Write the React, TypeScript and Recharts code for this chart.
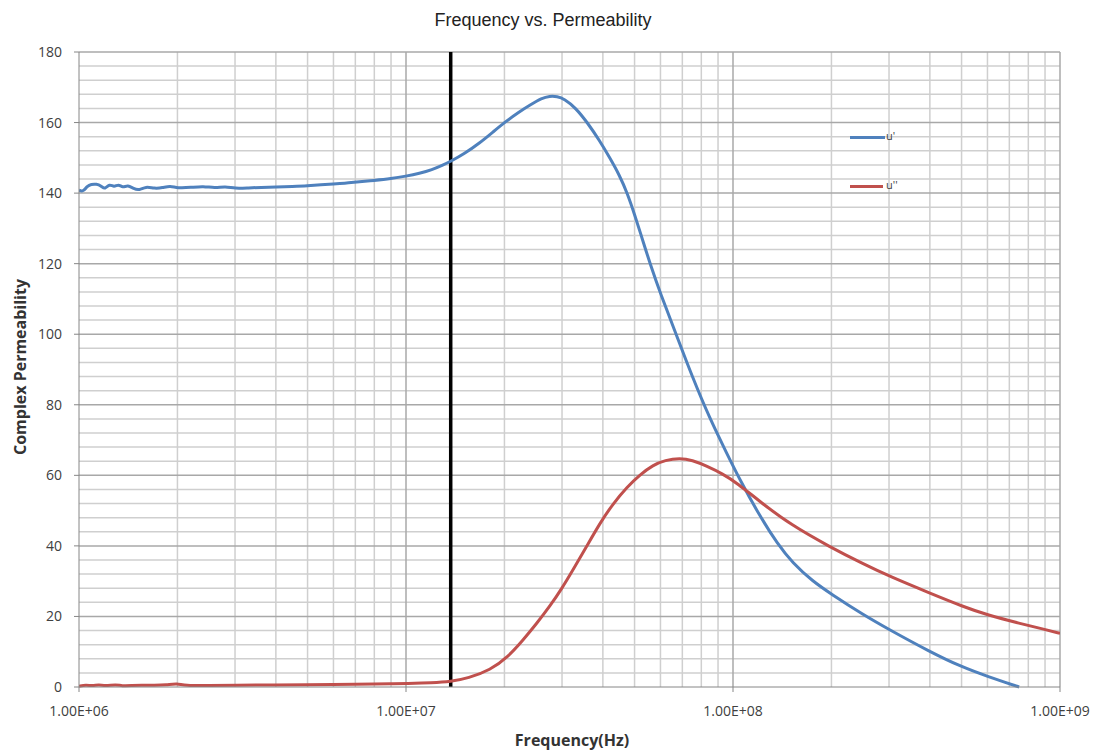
import { LineChart, Line, XAxis, YAxis, ReferenceLine } from "recharts";

// u' (real part) — frequency in Hz, permeability
const muRealFreq = [
  1.0e6, 1.03e6, 1.06e6, 1.09e6, 1.13e6, 1.17e6, 1.2e6, 1.24e6, 1.28e6, 1.32e6,
  1.36e6, 1.41e6, 1.47e6, 1.53e6, 1.6e6, 1.7e6, 1.8e6, 1.9e6, 2.0e6, 2.2e6,
  2.4e6, 2.6e6, 2.8e6, 3.0e6, 3.3e6, 3.6e6, 4.0e6, 4.5e6, 5.0e6, 5.5e6,
  6.0e6, 6.5e6, 7.0e6, 8.0e6, 9.0e6, 1.0e7, 1.1e7, 1.2e7, 1.3e7, 1.37e7,
  1.5e7, 1.68e7, 1.85e7, 2.0e7, 2.2e7, 2.4e7, 2.6e7, 2.75e7, 2.9e7, 3.05e7,
  3.3e7, 3.6e7, 3.9e7, 4.2e7, 4.5e7, 4.75e7, 5.0e7, 5.3e7, 5.6e7, 6.0e7,
  6.7e7, 7.5e7, 8.5e7, 9.6e7, 1.05e8, 1.21e8, 1.37e8, 1.52e8, 1.75e8, 2.0e8,
  2.5e8, 3.0e8, 4.0e8, 5.0e8, 6.0e8, 7.5e8,
];
const muRealVal = [
  140.8, 140.4, 142.0, 142.5, 142.6, 142.0, 141.0, 142.7, 141.6, 142.6,
  141.5, 142.3, 141.2, 140.8, 141.9, 141.3, 141.5, 142.1, 141.4, 141.6,
  142.0, 141.4, 141.9, 141.3, 141.5, 141.6, 141.7, 141.9, 142.1, 142.4,
  142.6, 142.8, 143.1, 143.6, 144.1, 144.8, 145.6, 146.6, 148.0, 149.0,
  151.0, 154.2, 157.4, 160.0, 162.8, 165.0, 166.9, 167.5, 167.4, 166.7,
  164.2, 159.8, 155.0, 150.0, 145.0, 140.0, 134.0, 126.5, 119.5, 111.5,
  100.0, 88.0, 76.0, 66.0, 58.7, 48.3, 40.5, 35.2, 30.0, 26.3,
  20.5, 16.3, 10.0, 5.7, 3.0, 0.0,
];

// u'' (imaginary part)
const muImagFreq = [
  1.0e6, 1.05e6, 1.1e6, 1.15e6, 1.2e6, 1.3e6, 1.35e6, 1.45e6, 1.55e6, 1.7e6,
  1.85e6, 2.0e6, 2.1e6, 2.5e6, 3.0e6, 4.0e6, 5.0e6, 6.0e6, 7.0e6, 8.0e6,
  9.0e6, 1.0e7, 1.2e7, 1.37e7, 1.55e7, 1.81e7, 2.05e7, 2.28e7, 2.5e7, 2.76e7,
  3.0e7, 3.24e7, 3.55e7, 3.92e7, 4.3e7, 4.74e7, 5.2e7, 5.69e7, 6.2e7, 6.88e7,
  7.5e7, 8.32e7, 9.3e7, 1.03e8, 1.21e8, 1.5e8, 1.98e8, 2.5e8, 3.02e8, 4.0e8,
  5.05e8, 6.0e8, 7.55e8, 9.0e8, 1.0e9,
];
const muImagVal = [
  0.2, 0.6, 0.3, 0.7, 0.3, 0.7, 0.3, 0.4, 0.5, 0.5,
  0.6, 1.0, 0.4, 0.4, 0.5, 0.6, 0.6, 0.7, 0.8, 0.8,
  0.9, 1.0, 1.2, 1.5, 2.5, 4.8, 8.5, 13.3, 17.8, 23.0,
  28.0, 33.2, 39.5, 46.5, 52.0, 56.7, 60.2, 62.9, 64.3, 64.9,
  64.3, 62.6, 60.4, 57.8, 52.5, 46.0, 39.7, 34.9, 31.3, 26.6,
  22.8, 20.4, 18.0, 16.3, 15.2,
];

const xTicks = [1e6, 1e7, 1e8, 1e9];
const yTicks = [0, 20, 40, 60, 80, 100, 120, 140, 160, 180];
const markerFreq = 1.37e7;

const realData = muRealFreq.map((f, i) => ({ f, v: muRealVal[i] }));
const imagData = muImagFreq.map((f, i) => ({ f, v: muImagVal[i] }));

// log minor grid: 2..9 in every decade
const minorX: number[] = [];
for (const d of [1e6, 1e7, 1e8]) for (let k = 2; k <= 9; k++) minorX.push(d * k);
const minorY: number[] = [];
for (let y = 4; y < 180; y += 4) if (y % 20 !== 0) minorY.push(y);

const fmtE = (v: number) => {
  const e = Math.round(Math.log10(v));
  return "1.00E+" + String(e).padStart(2, "0");
};

const BLUE = "#4F81BD";
const RED = "#C0504D";
const tickFont = { fontFamily: "Open Sans", fontSize: 14, fill: "#404040" };

export default function App() {
  return (
    <div style={{ position: "absolute", left: 0, top: 0, width: 1096, height: 751, background: "#fff" }}>
      <LineChart width={1096} height={751} margin={{ top: 52, right: 36, bottom: 34, left: 39 }}>
        <XAxis
          dataKey="f"
          type="number"
          scale="log"
          domain={[1e6, 1e9]}
          ticks={xTicks}
          tickFormatter={fmtE}
          allowDataOverflow
          height={30}
          stroke="#868686"
          tickSize={5}
          tickMargin={14}
          tick={tickFont}
        />
        <YAxis
          type="number"
          domain={[0, 180]}
          ticks={yTicks}
          width={40}
          stroke="#868686"
          tickSize={5}
          tickMargin={12}
          tick={tickFont}
        />
        {minorY.map((y) => (
          <ReferenceLine key={"my" + y} y={y} stroke="#cfcfcf" strokeWidth={1.5} />
        ))}
        {minorX.map((x) => (
          <ReferenceLine key={"mx" + x} x={x} stroke="#cfcfcf" strokeWidth={1.5} />
        ))}
        {yTicks.slice(1).map((y) => (
          <ReferenceLine key={"My" + y} y={y} stroke="#a8a8a8" strokeWidth={1.5} />
        ))}
        {xTicks.slice(1).map((x) => (
          <ReferenceLine key={"Mx" + x} x={x} stroke="#a8a8a8" strokeWidth={1.5} />
        ))}
        <ReferenceLine x={markerFreq} stroke="#000" strokeWidth={3.5} />
        <Line
          data={realData}
          dataKey="v"
          type="basis"
          stroke={BLUE}
          strokeWidth={3}
          dot={false}
          isAnimationActive={false}
        />
        <Line
          data={imagData}
          dataKey="v"
          type="basis"
          stroke={RED}
          strokeWidth={3}
          dot={false}
          isAnimationActive={false}
        />
      </LineChart>

      <div
        style={{
          position: "absolute", left: 0, width: 1096, top: 10, textAlign: "center",
          fontFamily: "Liberation Sans", fontSize: 18, color: "#222",
        }}
      >
        <span style={{ position: "relative", left: -5 }}>Frequency vs. Permeability</span>
      </div>
      <div
        style={{
          position: "absolute", left: 472, width: 200, top: 729, textAlign: "center",
          fontFamily: "Open Sans", fontWeight: 700, fontSize: 16, color: "#333",
        }}
      >
        Frequency(Hz)
      </div>
      <div
        style={{
          position: "absolute", left: 20 - 110, width: 220, top: 367 - 11, textAlign: "center",
          transform: "rotate(-90deg)", fontFamily: "Open Sans", fontWeight: 700, fontSize: 16,
          color: "#333", lineHeight: "22px",
        }}
      >
        Complex Permeability
      </div>

      {/* legend */}
      <div style={{ position: "absolute", left: 850, top: 136, width: 35, height: 3, background: BLUE }} />
      <div style={{ position: "absolute", left: 886, top: 128, fontFamily: "Open Sans", fontSize: 11, color: "#404040" }}>
        u'
      </div>
      <div style={{ position: "absolute", left: 850, top: 185, width: 33, height: 3, background: RED }} />
      <div style={{ position: "absolute", left: 886, top: 177, fontFamily: "Open Sans", fontSize: 11, color: "#404040" }}>
        u''
      </div>
    </div>
  );
}
